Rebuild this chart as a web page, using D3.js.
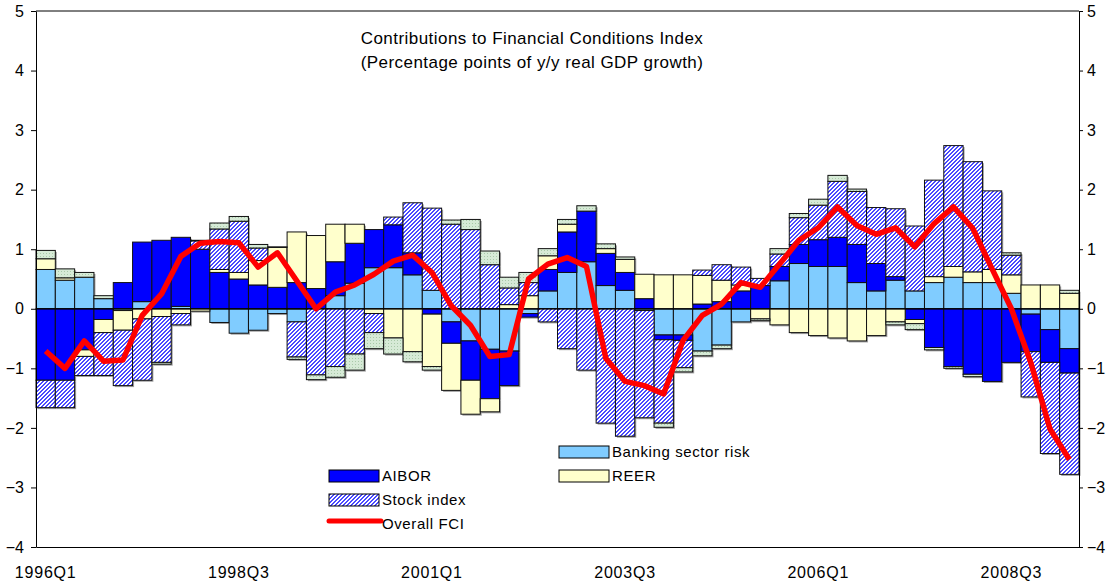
<!DOCTYPE html>
<html>
<head>
<meta charset="utf-8">
<script src="https://cdn.jsdelivr.net/npm/d3@7"></script>
<style>
  body { margin: 0; background: #fff; }
  text { font-family: "Liberation Sans", Arial, sans-serif; }
</style>
</head>
<body>
<svg id="chart" width="1113" height="588"></svg>
<script>
// Quarters 1996Q1 .. 2009Q2
const quarters = [];
for (let yr = 1996; yr <= 2009; yr++) {
  for (let q = 1; q <= 4; q++) {
    if (yr === 2009 && q > 2) break;
    quarters.push(yr + "Q" + q);
  }
}
const tickLabels = ["1996Q1", "1998Q3", "2001Q1", "2003Q3", "2006Q1", "2008Q3"];

// Contributions (percentage points)
const banking = [0.66, 0.48, 0.53, 0.17, -0.03, 0.12, 0.00, 0.04, 0.00, -0.23,
  -0.41, -0.36, -0.08, -0.22, 0.00, 0.22, 0.43, 0.69, 0.69, 0.57,
  0.31, -0.22, -0.54, -0.68, -0.71, -0.08, 0.30, 0.61, 0.79, 0.39,
  0.31, -0.03, -0.44, -0.44, -0.71, -0.61, -0.22, 0.00, 0.47, 0.76,
  0.71, 0.71, 0.44, 0.30, 0.48, 0.30, 0.44, 0.53, 0.44, 0.44,
  0.26, -0.09, -0.35, -0.67];
const aibor = [-1.20, -1.20, -0.69, -0.18, 0.44, 1.00, 1.15, 1.16, 1.00, 0.61,
  0.50, 0.40, 0.36, 0.44, 0.34, 0.57, 0.67, 0.64, 0.72, 0.37,
  -0.09, -0.36, -0.66, -0.83, -0.58, -0.06, 0.36, 0.68, 0.85, 0.54,
  0.30, 0.17, -0.08, -0.09, 0.08, 0.12, 0.30, 0.39, 0.24, 0.32,
  0.45, 0.49, 0.64, 0.46, 0.06, -0.18, -0.65, -0.97, -1.10, -1.22,
  -0.90, -0.63, -0.55, -0.41];
const reer = [0.18, 0.04, -0.11, -0.22, -0.33, -0.17, -0.13, -0.08, -0.04, 0.05,
  0.11, 0.41, 0.67, 0.85, 0.89, 0.63, 0.32, -0.08, -0.49, -0.72,
  -0.88, -0.79, -0.57, -0.22, 0.07, 0.22, 0.23, 0.13, 0.00, 0.08,
  0.22, 0.41, 0.57, 0.57, 0.48, 0.36, 0.10, -0.17, -0.27, -0.40,
  -0.45, -0.49, -0.54, -0.45, -0.22, -0.07, 0.10, 0.18, 0.18, 0.22,
  0.31, 0.40, 0.40, 0.26];
const stock = [-0.46, -0.46, -0.32, -0.72, -0.93, -1.03, -0.77, -0.19, 0.14, 0.68,
  0.86, 0.21, 0.00, -0.59, -1.11, -0.97, -0.76, -0.32, 0.13, 0.84,
  1.38, 1.42, 1.33, 0.74, 0.28, 0.22, -0.22, -0.67, -1.03, -1.92,
  -2.14, -1.80, -1.40, -0.46, 0.09, 0.26, 0.30, 0.12, 0.21, 0.45,
  0.58, 0.94, 0.89, 0.94, 1.14, 1.09, 1.62, 2.03, 1.85, 1.32,
  0.33, -0.76, -1.53, -1.70];
const other = [0.14, 0.15, 0.08, 0.05, 0.00, 0.00, -0.03, 0.00, 0.01, 0.10,
  0.08, 0.06, 0.01, -0.04, -0.08, -0.18, -0.27, -0.27, -0.27, -0.17,
  -0.06, 0.07, 0.17, 0.23, 0.18, 0.17, 0.12, 0.08, 0.09, 0.08,
  0.04, 0.00, -0.07, -0.07, -0.08, -0.06, 0.00, -0.03, 0.09, 0.07,
  0.10, 0.10, 0.04, 0.00, -0.05, -0.10, -0.04, -0.03, -0.04, 0.00,
  0.04, 0.00, 0.00, 0.05];
const overallFCI = [-0.71, -1.00, -0.54, -0.88, -0.86, -0.11, 0.25, 0.88, 1.10, 1.13,
  1.11, 0.70, 0.94, 0.47, 0.00, 0.28, 0.40, 0.58, 0.80, 0.90,
  0.61, 0.05, -0.28, -0.80, -0.77, 0.50, 0.75, 0.86, 0.71, -0.83,
  -1.22, -1.29, -1.43, -0.53, -0.11, 0.08, 0.44, 0.36, 0.75, 1.15,
  1.36, 1.71, 1.40, 1.25, 1.36, 1.04, 1.43, 1.71, 1.35, 0.67,
  0.00, -0.90, -2.02, -2.53];

// Series in stacking order
const keys = ["banking", "aibor", "reer", "stock", "other"];
const fills = {
  banking: "#80ccff",
  aibor: "#0000ff",
  reer: "#ffffcc",
  stock: "url(#hatch)",
  other: "url(#dots)"
};

const rows = quarters.map((q, i) => ({
  q: q,
  banking: banking[i],
  aibor: aibor[i],
  reer: reer[i],
  stock: stock[i],
  other: other[i]
}));

const svg = d3.select("#chart");
const plotLeft = 36, plotRight = 1079, plotTop = 11, plotBottom = 547;

// patterns
const defs = svg.append("defs");
const hatch = defs.append("pattern")
  .attr("id", "hatch")
  .attr("patternUnits", "userSpaceOnUse")
  .attr("width", 4).attr("height", 4);
hatch.append("rect").attr("width", 4).attr("height", 4).attr("fill", "#ffffff");
d3.range(4).forEach(i => {
  [3 - i, (4 - i) % 4].forEach(j => {
    hatch.append("rect")
      .attr("x", i).attr("y", j).attr("width", 1).attr("height", 1)
      .attr("fill", "#4a4aff")
      .attr("shape-rendering", "crispEdges");
  });
});

const dots = defs.append("pattern")
  .attr("id", "dots")
  .attr("patternUnits", "userSpaceOnUse")
  .attr("width", 3).attr("height", 3);
dots.append("rect").attr("width", 3).attr("height", 3).attr("fill", "#d6ead6");
dots.append("rect").attr("x", 1).attr("y", 1).attr("width", 1).attr("height", 1).attr("fill", "#a9c9a9");

// scales
const x = d3.scaleBand()
  .domain(quarters)
  .range([plotLeft, plotRight])
  .padding(0);

const y = d3.scaleLinear()
  .domain([-4, 5])
  .range([plotBottom, plotTop]);

const stacked = d3.stack()
  .keys(keys)
  .offset(d3.stackOffsetDiverging)(rows);

// bar shadows
const shadowG = svg.append("g");
stacked.forEach(s => {
  shadowG.selectAll(null)
    .data(s.filter(d => d[1] !== d[0]))
    .join("rect")
    .attr("x", d => x(d.data.q) + 1.5)
    .attr("y", d => y(Math.max(d[0], d[1])) + 1.5)
    .attr("width", x.bandwidth())
    .attr("height", d => Math.abs(y(d[0]) - y(d[1])))
    .attr("fill", "#a0a0a0");
});

// bars
svg.append("g")
  .selectAll("g")
  .data(stacked)
  .join("g")
  .attr("fill", d => fills[d.key])
  .selectAll("rect")
  .data(d => d.filter(v => v[1] !== v[0]))
  .join("rect")
  .attr("x", d => x(d.data.q))
  .attr("y", d => y(Math.max(d[0], d[1])))
  .attr("width", x.bandwidth())
  .attr("height", d => Math.abs(y(d[0]) - y(d[1])))
  .attr("stroke", "#111")
  .attr("stroke-width", 1);

// frame lines
svg.append("line")
  .attr("x1", plotLeft).attr("x2", plotRight)
  .attr("y1", y(5)).attr("y2", y(5))
  .attr("stroke", "#000");
svg.append("line")
  .attr("x1", plotLeft).attr("x2", plotRight)
  .attr("y1", y(0)).attr("y2", y(0))
  .attr("stroke", "#000").attr("stroke-width", 1.3);

// axes
const yTicks = d3.range(-4, 6);
const yLeft = svg.append("g")
  .attr("transform", `translate(${plotLeft},0)`)
  .call(d3.axisLeft(y).tickValues(yTicks).tickFormat(d3.format("d")).tickSize(5).tickSizeOuter(0).tickPadding(7));
const yRight = svg.append("g")
  .attr("transform", `translate(${plotRight},0)`)
  .call(d3.axisRight(y).tickValues(yTicks).tickFormat(d3.format("d")).tickSize(4).tickSizeOuter(0).tickPadding(4));
const xAxis = svg.append("g")
  .attr("transform", `translate(0,${plotBottom})`)
  .call(d3.axisBottom(x).tickValues(tickLabels).tickSize(0).tickSizeOuter(0).tickPadding(20));

[yLeft, yRight, xAxis].forEach(g => {
  g.selectAll("text").attr("font-size", 16).attr("fill", "#000")
    .attr("font-family", "'Liberation Sans', Arial, sans-serif");
  g.select(".domain").attr("stroke", "#000");
});
xAxis.selectAll("text").attr("letter-spacing", 0.8);

// overall FCI line
const line = d3.line()
  .x((d, i) => x(quarters[i]) + x.bandwidth() / 2)
  .y(d => y(d));

svg.append("path")
  .datum(overallFCI)
  .attr("fill", "none")
  .attr("stroke", "#ff0000")
  .attr("stroke-width", 5.5)
  .attr("stroke-linejoin", "round")
  .attr("d", line);

// title
const title = svg.append("text")
  .attr("x", 532)
  .attr("y", 44)
  .attr("text-anchor", "middle")
  .attr("font-size", 17)
  .attr("letter-spacing", 0.45);
title.append("tspan").attr("x", 532).text("Contributions to Financial Conditions Index");
title.append("tspan").attr("x", 532).attr("dy", 24).text("(Percentage points of y/y real GDP growth)");

// legend
const legendItems = [
  { label: "AIBOR", fill: fills.aibor, x: 329, y: 470 },
  { label: "Stock index", fill: fills.stock, x: 329, y: 494 },
  { label: "Banking sector risk", fill: fills.banking, x: 559, y: 446 },
  { label: "REER", fill: fills.reer, x: 559, y: 470 }
];
const legend = svg.append("g");
legendItems.forEach(it => {
  legend.append("rect")
    .attr("x", it.x).attr("y", it.y)
    .attr("width", 50).attr("height", 12)
    .attr("fill", it.fill)
    .attr("stroke", "#000");
  legend.append("text")
    .attr("x", it.x + 53).attr("y", it.y + 11)
    .attr("font-size", 15)
    .attr("letter-spacing", 0.6)
    .text(it.label);
});
legend.append("line")
  .attr("x1", 329).attr("x2", 381)
  .attr("y1", 521).attr("y2", 521)
  .attr("stroke", "#ff0000")
  .attr("stroke-width", 5)
  .attr("stroke-linecap", "round");
legend.append("text")
  .attr("x", 382).attr("y", 529)
  .attr("font-size", 15)
  .attr("letter-spacing", 0.6)
  .text("Overall FCI");
</script>
</body>
</html>
